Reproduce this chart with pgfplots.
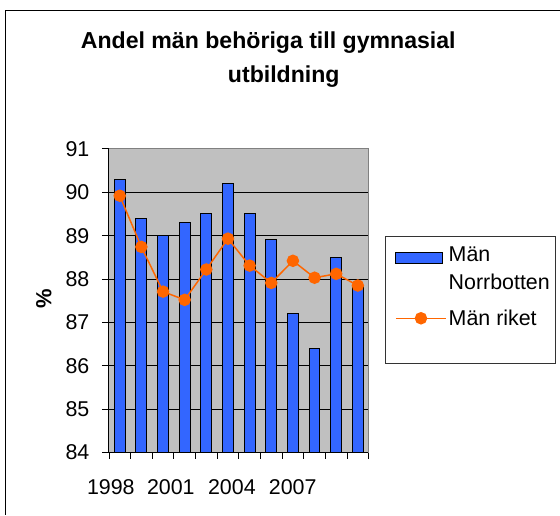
\documentclass[border=0pt]{standalone}
\usepackage{pgfplots}
\pgfplotsset{compat=1.18}
\usepackage{fontspec}
\setmainfont{Liberation Sans}
\definecolor{barblue}{HTML}{3366FF}
\definecolor{lineorange}{HTML}{FF6600}
\definecolor{plotgray}{HTML}{C0C0C0}
\definecolor{bordergray}{HTML}{808080}
\begin{document}
\begin{tikzpicture}[x=1bp,y=1bp]
\path (0,0) rectangle (560,515);
\draw[line width=1bp] (6,0) -- (6,504) -- (560,504);
\begin{axis}[
  at={(109bp,62bp)}, anchor=south west,
  scale only axis, width=260bp, height=304bp,
  xmin=-0.5, xmax=11.5, ymin=84, ymax=91,
  axis background/.style={fill=plotgray},
  axis x line*=bottom, axis y line*=left,
  axis line style={line width=0.9bp, black},
  ytick={84,85,...,91},
  ymajorgrids, grid style={black, line width=0.8bp},
  xtick={-0.41,2.36,5.18,7.99},
  xticklabels={1998,2001,2004,2007},
  minor xtick={-0.5,0.5,...,11.5},
  tick align=outside,
  major tick length=7bp, minor tick length=6bp,
  x tick style={draw=none},
  minor x tick style={draw=black, line width=0.8bp},
  y tick style={black, line width=0.8bp},
  /pgf/number format/assume math mode=true,
  ticklabel style={font=\fontsize{21.5}{25}\selectfont},
  yticklabel style={xshift=-9bp},
  xticklabel style={yshift=-16bp},
  ylabel={\%},
  ylabel style={at={(axis description cs:-0.25,0.507)}, anchor=center, font=\fontsize{22}{25}\selectfont\bfseries},
  legend style={at={(1.09,0.69)}, anchor=north west, draw=none, fill=none,
    font=\fontsize{21.5}{27.5}\selectfont, nodes={align=left, inner sep=2bp}, row sep=15bp},
  legend cell align=left,
  clip=false,
]
\addplot[ybar, bar width=0.5, fill=barblue, draw=black, line width=1bp,
  legend image code/.code={\draw[fill=barblue, draw=black, line width=1bp] (0bp,6bp) rectangle (47bp,17bp);}]
  coordinates {(0,90.3) (1,89.4) (2,89.0) (3,89.3) (4,89.5) (5,90.2) (6,89.5) (7,88.9) (8,87.2) (9,86.4) (10,88.5) (11,87.85)};
\addlegendentry{Män\\Norrbotten}
\addplot[lineorange, line width=1.5bp, mark=*, mark size=5.5bp, mark options={fill=lineorange, draw=lineorange},
  legend image code/.code={\draw[lineorange, line width=1.5bp] (0bp,0bp) -- (50bp,0bp); \fill[lineorange] (25bp,0bp) circle (5.5bp);}]
  coordinates {(0,89.92) (1,88.74) (2,87.71) (3,87.52) (4,88.22) (5,88.93) (6,88.31) (7,87.91) (8,88.42) (9,88.03) (10,88.12) (11,87.85)};
\addlegendentry{Män riket}
\draw[bordergray, line width=0.9bp] (rel axis cs:0,1) -- (rel axis cs:1,1) -- (rel axis cs:1,0);
\end{axis}
\draw[line width=0.9bp, draw=black!80] (386,151) rectangle (556,278);
\node[anchor=base, font=\fontsize{23.2}{27}\selectfont\bfseries] at (268.5,466) {Andel män behöriga till gymnasial};
\node[anchor=base, font=\fontsize{23.2}{27}\selectfont\bfseries] at (284,432) {utbildning};
\end{tikzpicture}
\end{document}
